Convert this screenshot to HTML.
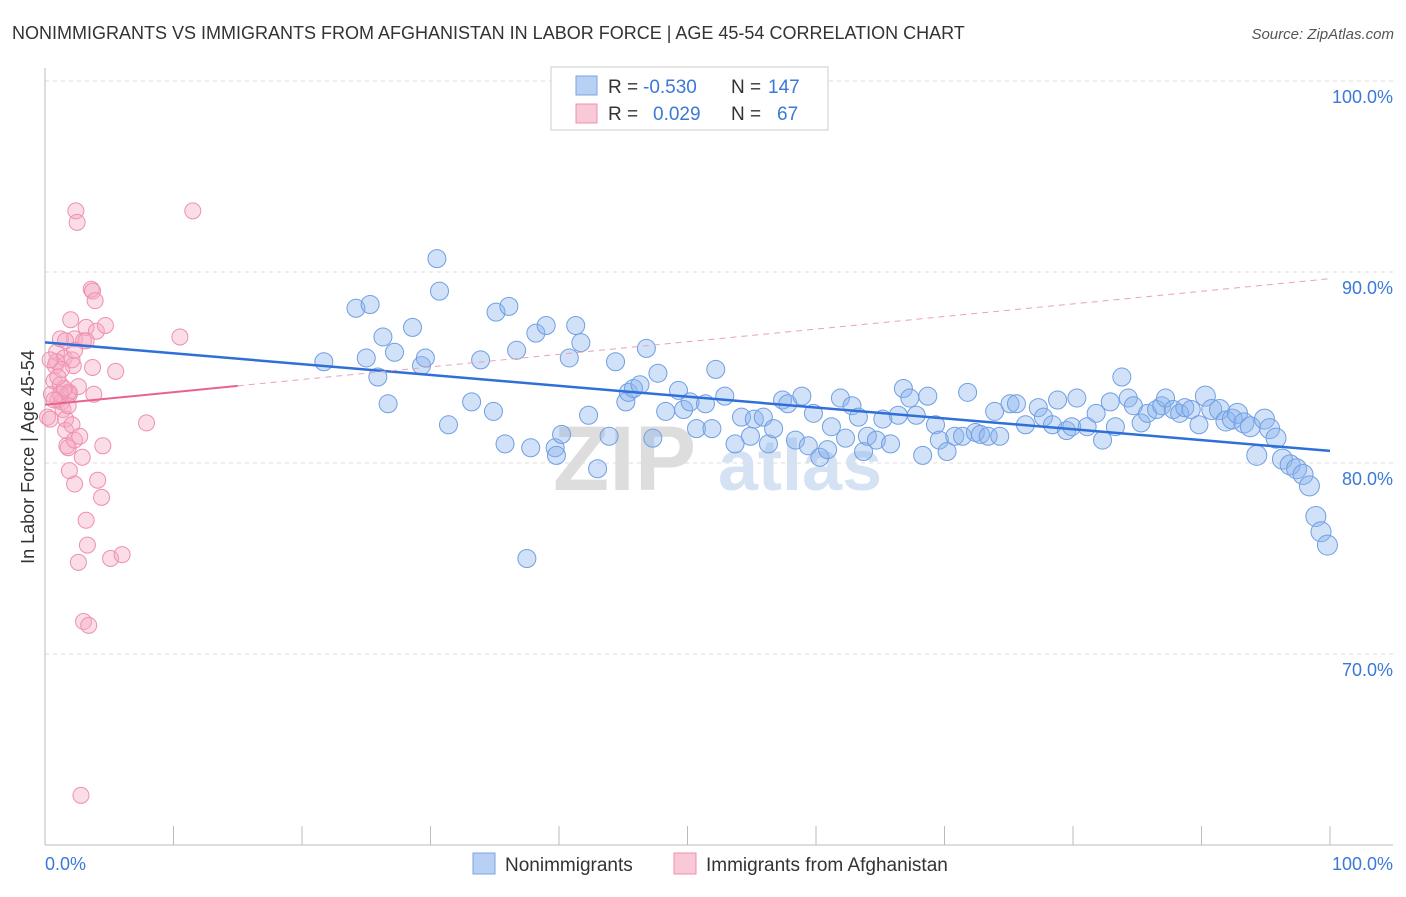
<!DOCTYPE html>
<html><head><meta charset="utf-8"><style>
body{margin:0;background:#fff;font-family:"Liberation Sans",sans-serif;}
svg text{font-family:"Liberation Sans",sans-serif;}
</style></head><body>
<svg id="chart" width="1406" height="892" xmlns="http://www.w3.org/2000/svg">
<text x="12" y="39" font-size="18" fill="#333">NONIMMIGRANTS VS IMMIGRANTS FROM AFGHANISTAN IN LABOR FORCE | AGE 45-54 CORRELATION CHART</text>
<text x="1394" y="39" font-size="15" fill="#555" text-anchor="end" font-style="italic">Source: ZipAtlas.com</text>
<g id="grid"></g>
<g><text x="553" y="490" font-size="92" fill="#ddd" font-family="Liberation Serif" font-weight="bold">ZIP</text><text x="718" y="490" font-size="72" fill="#d4e2f4" font-weight="bold">atlas</text></g>
<g id="axes"></g>
<g id="pts"></g>
<g id="trends"></g>
<text transform="translate(34,457) rotate(-90)" font-size="18" fill="#333" text-anchor="middle">In Labor Force | Age 45-54</text>
<text x="45" y="870" font-size="18" fill="#3b78d8">0.0%</text>
<text x="1393" y="870" font-size="18" fill="#3b78d8" text-anchor="end">100.0%</text>
<g>
<rect x="551" y="67" width="277" height="63" fill="#fff" stroke="#ccc"/>
<rect x="576" y="76" width="21" height="19" fill="#b8d0f3" stroke="#7aa6e6"/>
<rect x="576" y="104" width="21" height="19" fill="#f9c9d8" stroke="#ee90ad"/>
<text x="608" y="93" font-size="19" fill="#333">R =</text>
<text x="643" y="93" font-size="19" fill="#3b78d8">-0.530</text>
<text x="731" y="93" font-size="19" fill="#333">N =</text>
<text x="768" y="93" font-size="19" fill="#3b78d8">147</text>
<text x="608" y="120" font-size="19" fill="#333">R =</text>
<text x="653" y="120" font-size="19" fill="#3b78d8">0.029</text>
<text x="731" y="120" font-size="19" fill="#333">N =</text>
<text x="777" y="120" font-size="19" fill="#3b78d8">67</text>
</g>
<g>
<rect x="473" y="853" width="22" height="21" fill="#b8d0f3" stroke="#7aa6e6"/>
<text x="505" y="871" font-size="19" fill="#333">Nonimmigrants</text>
<rect x="674" y="853" width="22" height="21" fill="#f9c9d8" stroke="#ee90ad"/>
<text x="706" y="871" font-size="19" fill="#333">Immigrants from Afghanistan</text>
</g>
</svg>
<script>
const yTicks=[100,90,80,70];
const yTickLabels=["100.0%","90.0%","80.0%","70.0%"];
const xTicks=[0,10,20,30,40,50,60,70,80,90,100];
const blueX=[21.7,24.2,25.3,25.0,25.9,26.3,26.7,27.2,28.6,29.3,29.6,30.5,30.7,31.4,33.2,33.9,34.9,35.1,35.8,36.1,36.7,37.8,38.2,39.0,39.7,39.8,40.2,40.8,41.3,41.7,42.3,43.0,43.9,44.4,45.2,45.4,45.8,46.3,46.8,47.3,47.7,48.3,49.3,49.7,50.2,50.7,51.4,51.9,52.2,52.9,53.7,54.2,54.9,55.2,55.9,56.3,56.7,57.4,57.8,58.4,58.9,59.4,59.8,60.3,60.9,61.2,61.9,62.3,62.8,63.3,63.7,64.0,64.7,65.2,65.8,66.4,66.8,67.3,67.8,68.3,68.7,69.3,69.6,70.2,70.8,71.4,71.8,72.4,72.8,73.4,73.9,74.3,75.1,75.6,76.3,77.3,77.7,78.4,78.8,79.5,79.9,80.3,81.1,81.8,82.3,82.9,83.3,83.8,84.3,84.7,85.3,85.8,86.5,86.9,87.2,87.8,88.3,88.7,89.2,89.8,90.3,90.8,91.4,91.9,92.4,92.8,93.3,93.8,94.3,94.9,95.3,95.8,96.3,96.9,97.4,97.9,98.4,98.9,99.3,99.8,37.5];
const blueY=[85.3,88.1,88.3,85.5,84.5,86.6,83.1,85.8,87.1,85.1,85.5,90.7,89.0,82.0,83.2,85.4,82.7,87.9,81.0,88.2,85.9,80.8,86.8,87.2,80.8,80.4,81.5,85.5,87.2,86.3,82.5,79.7,81.4,85.3,83.2,83.7,83.9,84.1,86.0,81.3,84.7,82.7,83.8,82.8,83.2,81.8,83.1,81.8,84.9,83.5,81.0,82.4,81.4,82.3,82.4,81.0,81.8,83.3,83.1,81.2,83.5,80.9,82.6,80.3,80.7,81.9,83.4,81.3,83.0,82.4,80.6,81.4,81.2,82.3,81.0,82.5,83.9,83.4,82.5,80.4,83.5,82.0,81.2,80.6,81.4,81.4,83.7,81.6,81.5,81.4,82.7,81.4,83.1,83.1,82.0,82.9,82.4,82.0,83.3,81.7,81.9,83.4,81.9,82.6,81.2,83.2,81.9,84.5,83.4,83.0,82.1,82.6,82.8,83.0,83.4,82.8,82.6,82.9,82.8,82.0,83.5,82.8,82.8,82.2,82.3,82.6,82.1,81.9,80.4,82.3,81.8,81.3,80.2,79.9,79.7,79.4,78.8,77.2,76.4,75.7,75.0];
const pinkX=[0.2,0.4,0.5,0.7,0.8,0.9,1.0,1.2,1.2,1.3,1.4,1.5,1.6,1.6,1.7,1.8,1.8,1.9,1.9,2.0,2.1,2.2,2.3,2.3,2.3,2.4,2.5,2.6,2.6,2.7,2.8,2.9,3.0,3.0,3.2,3.2,3.3,3.4,3.6,3.7,3.7,3.8,3.9,4.0,4.1,4.4,4.5,4.7,5.1,5.5,6.0,7.9,10.5,11.5,2.1,0.9,1.2,1.5,1.9,2.3,1.6,1.8,1.3,1.0,3.2,0.4,0.7];
const pinkY=[82.4,82.3,83.6,84.3,85.1,85.8,83.3,84.1,86.5,83.2,82.8,85.5,82.3,81.7,80.9,80.8,83.7,83.7,83.6,87.5,82.0,85.1,81.2,78.9,86.5,93.2,92.6,74.8,84.0,81.4,62.6,80.3,86.4,71.7,87.1,77.0,75.7,71.5,89.1,89.0,85.0,83.6,88.5,86.9,79.1,78.2,80.9,87.2,75.0,84.8,75.2,82.1,86.6,93.2,85.4,85.3,83.6,83.9,79.6,85.9,86.4,83.0,84.9,84.5,86.4,85.4,83.3];
const pinkTrend=[83.05,0.066]; // intercept, slope (reported fit)
const pinkSolidEnd=15;
const NS='http://www.w3.org/2000/svg';
const X=v=>45+v*12.85, Y=v=>81+(100-v)*19.1;
function mk(t,a,p){const e=document.createElementNS(NS,t);for(const k in a)e.setAttribute(k,a[k]);p.appendChild(e);return e;}
const grid=document.getElementById('grid'),axes=document.getElementById('axes'),pts=document.getElementById('pts'),tr=document.getElementById('trends');
yTicks.forEach((t,i)=>{
 const l=mk('line',{x1:45,x2:1393,y1:Y(t),y2:Y(t),stroke:'#ddd','stroke-dasharray':'4,4'},grid);
 
 
 const tx=mk('text',{x:1393,y:Y(t)+22,'font-size':18,fill:'#3b78d8','text-anchor':'end'},grid);
 tx.textContent=yTickLabels[i];
 
 
});
mk('line',{x1:45,x2:45,y1:68,y2:845,stroke:'#bbb'},axes);
mk('line',{x1:45,x2:1393,y1:845,y2:845,stroke:'#bbb'},axes);
xTicks.forEach(t=>{const l=mk('line',{x1:X(t),x2:X(t),y1:826,y2:845,stroke:'#bbb'},axes);
 
 });
function reg(xs,ys){const n=xs.length;let mx=0,my=0;xs.forEach((x,i)=>{mx+=x;my+=ys[i];});mx/=n;my/=n;let sxy=0,sxx=0;xs.forEach((x,i)=>{sxy+=(x-mx)*(ys[i]-my);sxx+=(x-mx)**2;});const b=sxy/sxx;return [my-b*mx,b];}
pinkX.forEach((x,i)=>{const c=mk('circle',{cx:X(x),cy:Y(pinkY[i]),r:8,fill:'rgba(246,170,195,0.4)',stroke:'#ee90ad','stroke-width':1},pts);
 
 });
blueX.forEach((x,i)=>{const c=mk('circle',{cx:X(x),cy:Y(blueY[i]),r:x>90?10:9,fill:'rgba(140,180,238,0.4)',stroke:'#6f9fe3','stroke-width':1},pts);
 
 });
const [ba,bb]=reg(blueX,blueY);
const bl=mk('line',{x1:X(0),y1:Y(ba),x2:X(100),y2:Y(ba+bb*100),stroke:'#2f6fd8','stroke-width':2.5},tr);


const [pa,pb]=pinkTrend;
const pl=mk('line',{x1:X(0),y1:Y(pa),x2:X(pinkSolidEnd),y2:Y(pa+pb*pinkSolidEnd),stroke:'#e8628e','stroke-width':2},tr);


const pd=mk('line',{x1:X(pinkSolidEnd),y1:Y(pa+pb*pinkSolidEnd),x2:X(100),y2:Y(pa+pb*100),stroke:'#eba0b8','stroke-width':1,'stroke-dasharray':'6,5'},tr);


</script>
</body></html>
